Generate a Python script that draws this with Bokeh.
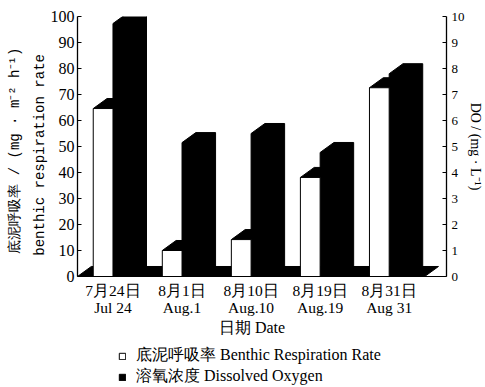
import math
from bokeh.plotting import figure
from bokeh.layouts import column
from bokeh.models import (Range1d, LinearAxis, FixedTicker, Legend,
                          LegendItem, ColumnDataSource)
from bokeh.embed import file_html
from bokeh.resources import INLINE

# ---------------- data ----------------
dates_cn = ["7月24日", "8月1日", "8月10日", "8月19日", "8月31日"]
dates_en = ["Jul 24", "Aug.1", "Aug.10", "Aug.19", "Aug 31"]
benthic_rate = [64.6, 10.0, 14.2, 38.1, 72.6]       # mg·m-2·h-1 (left axis)
dissolved_oxygen = [9.73, 5.15, 5.5, 4.77, 7.8]     # mg·L-1 (right axis)
left_ticks = [0, 10, 20, 30, 40, 50, 60, 70, 80, 90, 100]
right_ticks = [0, 1, 2, 3, 4, 5, 6, 7, 8, 9, 10]
legend_labels = ["底泥呼吸率 Benthic Respiration Rate", "溶氧浓度 Dissolved Oxygen"]
left_title = "底泥呼吸率 / (mg · m⁻²  h⁻¹)\nbenthic respiration rate\u00a0\u00a0"
right_title = "DO / (mg · L⁻¹)"
x_title = "日期  Date" + "\u00a0" * 4

# ---------------- geometry / style ----------------
n = len(dates_cn)
W = 0.2857        # bar front-face width (category units)
DX = 0.2          # 3-D depth offset in x
DY_L = 3.85       # 3-D depth offset in left-axis units
DY_R = DY_L / 10  # same offset in right-axis units
MARGIN = 0.228    # floor margin beyond outer bars
SERIF = "Liberation Serif"
MONO = "Liberation Mono"

x_start = -W - MARGIN
x_end = (n - 1) + 0.83

p = figure(width=485, height=341, output_backend="svg", toolbar_location=None,
           x_range=Range1d(x_start, x_end), y_range=Range1d(0, 100),
           min_border_left=77, min_border_right=34, min_border_top=16,
           min_border_bottom=65)
p.extra_y_ranges = {"do": Range1d(0, 10)}
p.grid.visible = False
p.outline_line_color = None
p.background_fill_color = "white"
p.border_fill_color = "white"

# floor
fx0 = x_start
fx1 = (n - 1) + W + MARGIN
p.patch([fx0, fx0 + DX, fx1 + DX, fx1], [0, DY_L, DY_L, 0],
        fill_color="black", line_color="black")

# dissolved oxygen bars (solid black 3-D silhouettes)
do_xs, do_ys = [], []
for i, h in enumerate(dissolved_oxygen):
    do_xs.append([i, i, i + DX, i + W + DX, i + W + DX, i + W])
    do_ys.append([0, h, h + DY_R, h + DY_R, DY_R, 0])
do_src = ColumnDataSource(dict(xs=do_xs, ys=do_ys))
p.patches("xs", "ys", source=do_src, y_range_name="do",
          fill_color="black", line_color="black")

# benthic respiration bars: black top face + white front face
top_xs, top_ys = [], []
for i, h in enumerate(benthic_rate):
    top_xs.append([i - W, i - W + DX, i + DX, i])
    top_ys.append([h, h + DY_L, h + DY_L, h])
p.patches(top_xs, top_ys, fill_color="black", line_color="black")

src = ColumnDataSource(dict(left=[i - W for i in range(n)],
                            right=[i for i in range(n)],
                            top=benthic_rate, bottom=[0] * n))
p.quad(left="left", right="right", top="top", bottom="bottom", source=src,
       fill_color="white", line_color="black", line_width=1)

# ---------------- axes ----------------
ly = p.yaxis[0]
ly.ticker = FixedTicker(ticks=left_ticks)
ly.major_tick_in = 4
ly.major_tick_out = 0
ly.minor_tick_line_color = None
ly.major_label_standoff = 3
ly.major_label_text_font = SERIF
ly.major_label_text_font_size = "16px"
ly.major_label_text_color = "black"
ly.axis_line_color = "black"
ly.axis_line_width = 1.3
ly.major_tick_line_color = "black"
ly.axis_label = left_title
ly.axis_label_text_font = MONO
ly.axis_label_text_font_size = "14px"
ly.axis_label_text_font_style = "normal"
ly.axis_label_text_color = "black"
ly.axis_label_text_line_height = 1.55
ly.axis_label_standoff = 0

ry = LinearAxis(y_range_name="do", ticker=FixedTicker(ticks=right_ticks))
ry.major_tick_in = 4
ry.major_tick_out = 0
ry.minor_tick_line_color = None
ry.major_label_standoff = 5
ry.major_label_text_font = SERIF
ry.major_label_text_font_size = "13px"
ry.major_label_text_color = "black"
ry.axis_line_color = "black"
ry.axis_line_width = 1.3
ry.axis_label = right_title
ry.axis_label_text_font = SERIF
ry.axis_label_text_font_size = "14px"
ry.axis_label_text_font_style = "normal"
ry.axis_label_text_color = "black"
ry.axis_label_text_line_height = 1.0
ry.axis_label_standoff = 0
p.add_layout(ry, "right")

xa = p.xaxis[0]
xa.ticker = FixedTicker(ticks=list(range(n)))
xa.major_label_overrides = {i: f"{dates_cn[i]}\n{dates_en[i]}" for i in range(n)}
xa.major_tick_line_color = None
xa.major_tick_out = 0
xa.major_tick_in = 0
xa.minor_tick_line_color = None
xa.major_label_standoff = 5
xa.major_label_text_font = SERIF
xa.major_label_text_font_size = "15.5px"
xa.major_label_text_line_height = 1.05
xa.major_label_text_color = "black"
xa.axis_line_color = "black"
xa.axis_label = x_title
xa.axis_label_text_font = SERIF
xa.axis_label_text_font_size = "16px"
xa.axis_label_text_font_style = "normal"
xa.axis_label_text_color = "black"
xa.axis_label_standoff = 0

# ---------------- legend (separate strip below the chart) ----------------
# The strip reuses the series' sources; its y range lies below all bars so the
# bars themselves stay out of view and only the legend is shown.
pl = figure(width=485, height=46, output_backend="svg", toolbar_location=None,
            x_range=Range1d(x_start, x_end), y_range=Range1d(-2, -1),
            x_axis_location=None, y_axis_location=None, min_border=0)
pl.grid.visible = False
pl.outline_line_color = None
pl.background_fill_color = "white"
pl.border_fill_color = "white"
lg_white = pl.quad(left="left", right="right", top="top", bottom="bottom",
                   source=src, fill_color="white", line_color="black", line_width=1)
lg_black = pl.patches("xs", "ys", source=do_src, fill_color="black",
                      line_color="black")
legend = Legend(items=[LegendItem(label=legend_labels[0], renderers=[lg_white]),
                       LegendItem(label=legend_labels[1], renderers=[lg_black])],
                location=(41, 0), orientation="vertical",
                glyph_width=8, glyph_height=8, label_standoff=10,
                label_height=16, spacing=0, padding=0, margin=0,
                border_line_color=None, background_fill_alpha=0,
                label_text_font=SERIF, label_text_font_size="16px",
                label_text_color="black")
pl.add_layout(legend)

layout = column(p, pl, spacing=0)
open("out.html", "w").write(file_html(layout, INLINE))
